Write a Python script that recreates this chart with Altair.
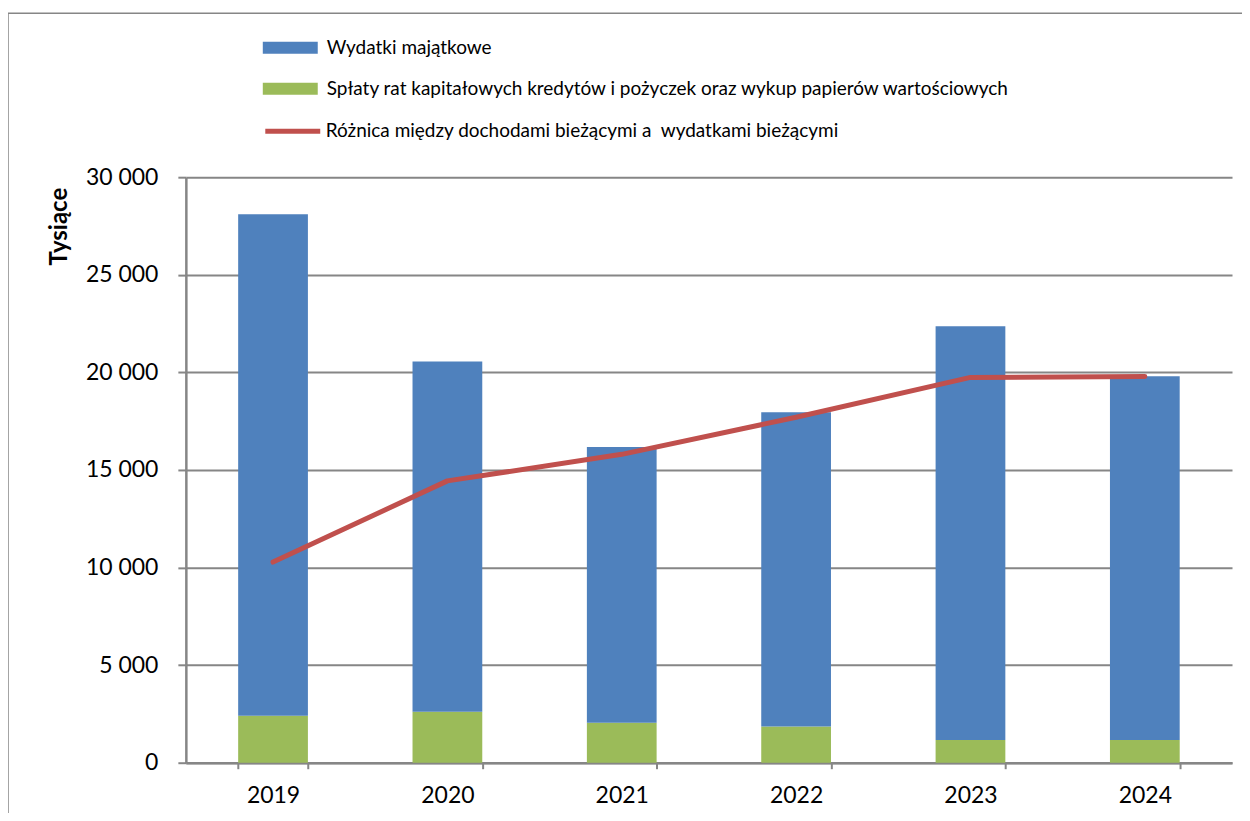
import altair as alt
import pandas as pd

years = ["2019", "2020", "2021", "2022", "2023", "2024"]
wydatki_majatkowe = [25690, 17950, 14120, 16100, 21200, 18640]
splaty = [2410, 2610, 2050, 1860, 1160, 1160]
roznica = [10280, 14440, 15800, 17700, 19740, 19790]

s_wyd = "Wydatki majątkowe"
s_spl = "Spłaty rat kapitałowych kredytów i pożyczek oraz wykup papierów wartościowych"
s_roz = "Różnica między dochodami bieżącymi a \u00a0wydatkami bieżącymi"

rows = []
for y, a, b in zip(years, wydatki_majatkowe, splaty):
    rows.append({"rok": y, "seria": s_spl, "wartosc": b, "ord": 0})
    rows.append({"rok": y, "seria": s_wyd, "wartosc": a, "ord": 1})
bars_df = pd.DataFrame(rows)
line_df = pd.DataFrame({"rok": years, "seria": [s_roz] * len(years), "wartosc": roznica})

FONT = "Lato"
GRAY = "#868686"

xscale = alt.Scale(paddingInner=0.6, paddingOuter=0.3)
xaxis = alt.Axis(
    title=None, labelAngle=0, labelFontSize=23, labelColor="#000000", labelFont=FONT,
    tickBand="extent", tickSize=6, tickColor=GRAY, tickWidth=2,
    domainColor=GRAY, domainWidth=2.5, labelPadding=16,
)
yscale = alt.Scale(domain=[0, 30000], nice=False)
yaxis = alt.Axis(
    title="Tysiące", titleFontSize=24, titleFont=FONT, titleFontWeight="bold", titleColor="#000000",
    titleX=-126, titleY=49, titleAlign="center", titleBaseline="middle",
    values=[0, 5000, 10000, 15000, 20000, 25000, 30000],
    labelExpr="replace(format(datum.value, ','), ',', ' ')",
    labelFontSize=23, labelColor="#000000", labelFont=FONT, labelPadding=20,
    tickSize=8, tickColor=GRAY, tickWidth=2,
    domainColor=GRAY, domainWidth=2.5,
    grid=True, gridColor=GRAY, gridWidth=2,
)

rect_path = "M-1,-0.22H1V0.22H-1Z"

bars = alt.Chart(bars_df).mark_bar().encode(
    x=alt.X("rok:N", scale=xscale, axis=xaxis),
    y=alt.Y("wartosc:Q", stack="zero", scale=yscale, axis=yaxis),
    fill=alt.Fill(
        "seria:N",
        scale=alt.Scale(domain=[s_wyd, s_spl], range=["#4F81BD", "#9BBB59"]),
        legend=alt.Legend(
            title=None, orient="none", legendX=77, legendY=-157,
            symbolType=rect_path, symbolSize=3025, symbolStrokeWidth=0,
            labelFontSize=19, labelFont=FONT, labelColor="#000000", labelOffset=9,
            rowPadding=3, labelLimit=900,
        ),
    ),
    order=alt.Order("ord:Q"),
)

line = alt.Chart(line_df).mark_line(strokeWidth=5, strokeCap="round", strokeJoin="round").encode(
    x=alt.X("rok:N", scale=xscale, axis=xaxis),
    y=alt.Y("wartosc:Q", scale=yscale, axis=yaxis),
    stroke=alt.Stroke(
        "seria:N",
        scale=alt.Scale(domain=[s_roz], range=["#C0504D"]),
        legend=alt.Legend(
            title=None, orient="none", legendX=77, legendY=-76,
            symbolType="stroke", symbolSize=3025, symbolStrokeWidth=5,
            labelFontSize=19, labelFont=FONT, labelColor="#000000", labelOffset=3,
            labelLimit=900,
        ),
    ),
)

frame = alt.Chart(pd.DataFrame({"k": [0]})).mark_rect(fill=None, stroke=GRAY, strokeWidth=1.5).encode(
    x=alt.value(-178), x2=alt.value(1300), y=alt.value(-164), y2=alt.value(900)
)

chart = alt.layer(frame, bars, line).resolve_scale(fill="independent", stroke="independent").properties(
    width=1047, height=586,
    autosize=alt.AutoSizeParams(type="none"),
    padding={"left": 178, "top": 169, "right": 10, "bottom": 50},
).configure_view(stroke=None)

chart.save("out.html", embed_options={"renderer": "svg", "actions": False})
